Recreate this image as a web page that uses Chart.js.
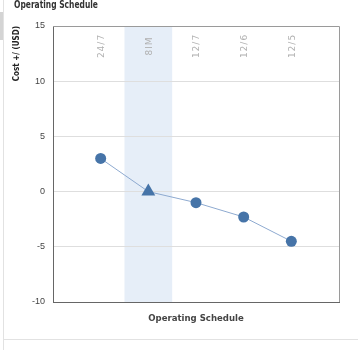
<!DOCTYPE html>
<html>
<head>
<meta charset="utf-8">
<script src="https://cdn.jsdelivr.net/npm/chart.js@4"></script>
<style>
  html, body { margin: 0; padding: 0; background: #fff; width: 358px; height: 350px; overflow: hidden; }
  #wrap { position: absolute; left: 0; top: 0; width: 358px; height: 350px; }
  #title { position: absolute; left: 14px; top: -2px; font: bold 11px 'DejaVu Sans Condensed', sans-serif; font-stretch: condensed; color: #333; white-space: nowrap; transform: scaleX(0.76); transform-origin: 0 0; }
  #vline { position: absolute; left: 3px; top: 0; width: 1px; height: 350px; background: #e2e2e2; }
  #hline { position: absolute; left: 4px; top: 339px; width: 354px; height: 1px; background: #e2e2e2; }
  #tab { position: absolute; left: 0; top: 12px; width: 3px; height: 28px; background: #d4d4d4; }
</style>
</head>
<body>
<div id="vline"></div>
<div id="hline"></div>
<div id="tab"></div>
<div id="wrap"><canvas id="c" width="358" height="350"></canvas></div>
<div id="title">Operating Schedule</div>
<script>
const categories = ['24/7', '8IM', '12/7', '12/6', '12/5'];
const costValues = [3.0, 0.0, -1.0, -2.3, -4.5];
const highlighted = '8IM';
const yTicks = [-10, -5, 0, 5, 10, 15];
const xTitle = 'Operating Schedule';
const yTitle = 'Cost +/ (USD)';

const hiIndex = categories.indexOf(highlighted);
const narrow = "'DejaVu Sans Condensed', 'Liberation Sans Narrow', sans-serif";

const bandPlugin = {
  id: 'band',
  beforeDraw(chart) {
    const {ctx, chartArea, scales} = chart;
    const x = scales.x;
    const l = x.getPixelForValue(hiIndex + 0.5);
    const r = x.getPixelForValue(hiIndex + 1.5);
    ctx.save();
    ctx.fillStyle = '#e6eef8';
    ctx.fillRect(l, chartArea.top, r - l, chartArea.bottom - chartArea.top);
    ctx.restore();
  },
  afterDraw(chart) {
    const {ctx, chartArea, scales} = chart;
    ctx.save();
    ctx.strokeStyle = '#9a9a9a';
    ctx.lineWidth = 1;
    ctx.beginPath();
    ctx.moveTo(chartArea.left, Math.round(chartArea.top) + 0.5);
    ctx.lineTo(Math.round(chartArea.right) + 0.5, Math.round(chartArea.top) + 0.5);
    ctx.lineTo(Math.round(chartArea.right) + 0.5, chartArea.bottom);
    ctx.stroke();
    ctx.fillStyle = '#b0b0b0';
    ctx.font = "9px 'DejaVu Sans', sans-serif";
    try { ctx.letterSpacing = '1px'; } catch (e) {}
    ctx.textAlign = 'center';
    ctx.textBaseline = 'middle';
    categories.forEach((c, i) => {
      const px = scales.x.getPixelForValue(i + 1);
      ctx.save();
      ctx.translate(px + 1, chartArea.top + 20);
      ctx.rotate(-Math.PI / 2);
      ctx.fillText(c, 0, 0);
      ctx.restore();
    });
    ctx.restore();
  }
};

new Chart(document.getElementById('c'), {
  type: 'line',
  data: {
    datasets: [{
      data: categories.map((c, i) => ({x: i + 1, y: costValues[i]})),
      borderColor: '#8eaad0',
      borderWidth: 1,
      backgroundColor: '#4674a8',
      pointBackgroundColor: '#4674a8',
      pointBorderColor: '#4674a8',
      pointBorderWidth: 0,
      pointStyle: ctx => ctx.dataIndex === hiIndex ? 'triangle' : 'circle',
      pointRadius: ctx => ctx.dataIndex === hiIndex ? 8 : 5.5,
      tension: 0
    }]
  },
  options: {
    responsive: false,
    animation: false,
    layout: { padding: { top: 26, right: 19, bottom: 0, left: 0 } },
    plugins: { legend: { display: false }, tooltip: { enabled: false } },
    scales: {
      x: {
        type: 'linear',
        position: 'bottom',
        min: 0,
        max: categories.length + 1,
        grid: { display: false, drawTicks: false },
        border: { color: '#666', width: 1 },
        ticks: { display: false },
        title: { display: true, text: xTitle, color: '#444', font: { family: narrow, size: 9.5, weight: 'bold' }, padding: { top: 0, bottom: 26 } },
        afterFit: s => { s.height = 48; }
      },
      y: {
        min: yTicks[0],
        max: yTicks[yTicks.length - 1],
        afterBuildTicks: s => { s.ticks = yTicks.map(v => ({value: v})); },
        ticks: { color: '#444', font: { family: "'Liberation Sans', sans-serif", size: 9 }, padding: 8 },
        grid: { color: '#dedede', drawTicks: false, lineWidth: 1 },
        border: { color: '#666', width: 1 },
        title: { display: true, text: yTitle, align: 'end', color: '#222', font: { family: narrow, size: 8, weight: 'bold' }, padding: { top: 12, bottom: 0 } },
        afterFit: s => { s.width = 53; }
      }
    }
  },
  plugins: [bandPlugin]
});
</script>
</body>
</html>
